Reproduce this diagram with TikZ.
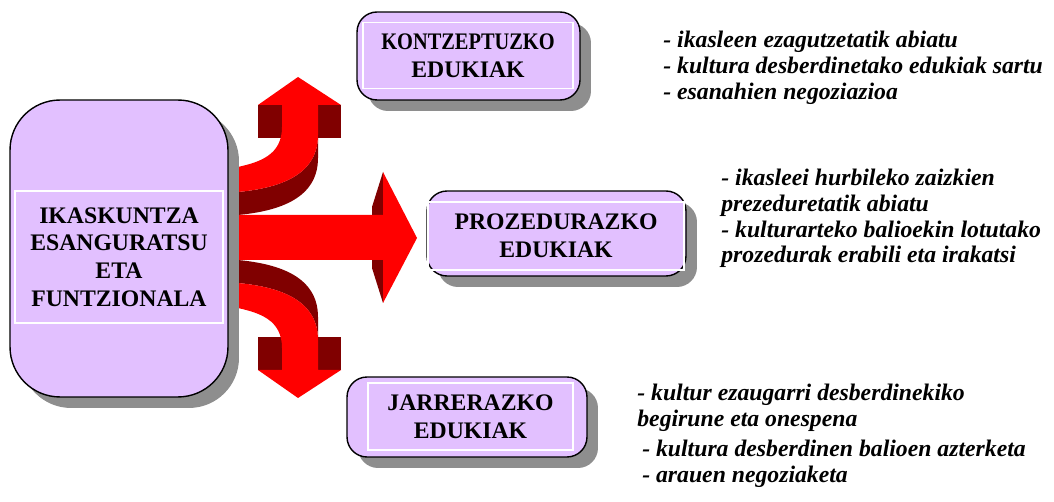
\documentclass[tikz,border=0pt]{standalone}
\usepackage{fontspec}
\setmainfont{Liberation Serif}
\newfontfamily\narrowserif[FakeStretch=0.86]{Liberation Serif}
\usepackage{tikz}
\usetikzlibrary{shadows}
\usepackage{xcolor}
\definecolor{lila}{RGB}{226,192,255}
\definecolor{gorri}{RGB}{255,0,0}
\definecolor{gorriilun}{RGB}{128,0,0}
\definecolor{itzal}{RGB}{142,142,142}

\begin{document}
\begin{tikzpicture}[x=0.02cm, y=-0.02cm,
    edukibox/.style={draw, line width=0.8pt, fill=lila, rounded corners=0.4cm,
        drop shadow={shadow xshift=0.22cm, shadow yshift=-0.22cm, fill=itzal, opacity=1}},
    barnekoa/.style={draw=white, line width=0.8pt, align=center,
        font=\bfseries\fontsize{13.5}{15.8}\selectfont},
    oharra/.style={anchor=north west, inner sep=0pt, align=left,
        font=\bfseries\itshape\fontsize{13.5}{14.6}\selectfont}]
    \useasboundingbox (0,0) rectangle (1054,502);
    %
    % gezien alde ilunak
    \fill[gorriilun] (258,105) rectangle (341,138);
    \fill[gorriilun] (318,135) .. controls (318,175) and (280,188) .. (238,192)
        -- (228,192) -- (228,215) -- (238,215)
        .. controls (280,211) and (318,198) .. (318,158) -- cycle;
    \fill[gorriilun] (383,172) -- (372,207) -- (372,215) -- (383,215) -- cycle;
    \fill[gorriilun] (383,303) -- (372,268) -- (372,260) -- (383,260) -- cycle;
    \fill[gorriilun] (258,337) rectangle (341,370);
    \fill[gorriilun] (318,340) .. controls (318,300) and (280,287) .. (238,283)
        -- (228,283) -- (228,260) -- (238,260)
        .. controls (280,264) and (318,277) .. (318,317) -- cycle;
    %
    % gezi gorriak
    \fill[gorri] (258,105) -- (298,77) -- (341,105) -- (318,105) -- (318,135)
        .. controls (318,175) and (280,188) .. (238,192) -- (228,192) -- (228,167)
        -- (238,167) .. controls (260,162) and (282,155) .. (282,127) -- (282,105) -- cycle;
    \fill[gorri] (228,215) -- (383,215) -- (383,172) -- (417,238) -- (383,303)
        -- (383,260) -- (228,260) -- cycle;
    \fill[gorri] (258,370) -- (298,398) -- (341,370) -- (318,370) -- (318,340)
        .. controls (318,300) and (280,287) .. (238,283) -- (228,283) -- (228,308)
        -- (238,308) .. controls (260,313) and (282,320) .. (282,348) -- (282,370) -- cycle;
    %
    \node[edukibox, rounded corners=1.0cm, minimum width=4.36cm, minimum height=5.94cm,
        drop shadow={shadow xshift=0.2cm, shadow yshift=-0.2cm, fill=itzal, opacity=1}]
        (ikas) at (119,248.5) {};
    \node[barnekoa, minimum width=4.16cm, minimum height=2.64cm] (ikastxt) at (119,257)
        {IKASKUNTZA\\ESANGURATSU\\ETA\\FUNTZIONALA};
    %
    \node[edukibox, minimum width=4.46cm, minimum height=1.76cm] (kontz) at (468.5,56) {};
    \node[barnekoa, minimum width=4.2cm, minimum height=1.32cm] (kontztxt) at (468,55.5)
        {{\narrowserif KONTZEPTUZKO}\\EDUKIAK};
    %
    \node[edukibox, minimum width=5.18cm, minimum height=1.7cm] (proz) at (556.5,233.5) {};
    \node[barnekoa, minimum width=5.12cm, minimum height=1.36cm] (proztxt) at (556,236)
        {PROZEDURAZKO\\EDUKIAK};
    %
    \node[edukibox, minimum width=4.8cm, minimum height=1.6cm] (jarr) at (467,417) {};
    \node[barnekoa, minimum width=4.1cm, minimum height=1.34cm] (jarrtxt) at (470.5,416.5)
        {JARRERAZKO\\EDUKIAK};
    %
    \node[oharra] (kontzoh) at (663,31) {
        - ikasleen ezagutzetatik abiatu\\
        - kultura desberdinetako edukiak sartu\\
        - esanahien negoziazioa
    };
    \node[oharra] (prozoh) at (721,169) {
        - ikasleei hurbileko zaizkien\\
        prezeduretatik abiatu\\
        - kulturarteko balioekin lotutako\\
        prozedurak erabili eta irakatsi
    };
    \node[oharra] (jarroh) at (637,384) {
        - kultur ezaugarri desberdinekiko\\
        begirune eta onespena\\[2.6pt]
        \hspace*{2.8pt}- kultura desberdinen balioen azterketa\\
        \hspace*{2.8pt}- arauen negoziaketa
    };
\end{tikzpicture}
\end{document}
